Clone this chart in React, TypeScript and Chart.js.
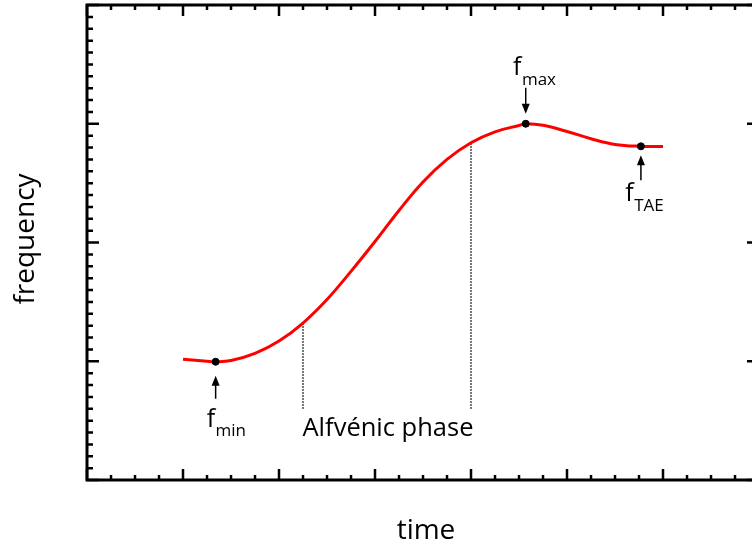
import React, { useEffect, useRef } from "react";
import { Chart, registerables } from "chart.js";

Chart.register(...registerables);

// Frequency evolution curve (time in arbitrary units, frequency in arbitrary units)
const timeValues = [1.0, 1.25, 1.34, 1.5, 1.75, 2.0, 2.25, 2.5, 2.75, 3.0, 3.25, 3.5, 3.75, 4.0, 4.25, 4.5, 4.57, 4.75, 5.0, 5.25, 5.5, 5.77, 6.0];
const freqValues = [1.017, 1.0, 0.996, 1.006, 1.066, 1.17, 1.322, 1.52, 1.757, 2.008, 2.27, 2.51, 2.7, 2.84, 2.932, 2.985, 3.0, 2.987, 2.935, 2.874, 2.826, 2.81, 2.809];

// Marked characteristic frequencies
const markerTimes = [1.34, 4.57, 5.77];
const markerFreqs = [0.996, 3.0, 2.81];
const markerSubs = ["min", "max", "TAE"];

// Alfvénic phase boundaries
const phaseTimes = [2.25, 4.0];
const phaseBottom = 0.6;
const phaseLabel = "Alfvénic phase";

const xTitle = "time";
const yTitle = "frequency";

const X_MIN = 0, X_MAX = 7, Y_MIN = 0, Y_MAX = 4;

const FONT = '"Open Sans", "DejaVu Sans", sans-serif';

function curveAt(t: number): number {
  const i = timeValues.indexOf(t);
  return i >= 0 ? freqValues[i] : NaN;
}

const framePlugin = {
  id: "frameAndNotes",
  afterDraw(chart: any) {
    const { ctx, chartArea } = chart;
    const xs = chart.scales.x;
    const ys = chart.scales.y;
    const { left, right, top, bottom } = chartArea;
    ctx.save();
    ctx.strokeStyle = "#000";
    ctx.fillStyle = "#000";
    ctx.lineCap = "butt";

    // inward ticks on all four sides
    const majorLen = 11, minorLen = 5;
    ctx.lineWidth = 2.5;
    ctx.beginPath();
    for (let k = 0; k <= (X_MAX - X_MIN) * 4; k++) {
      const v = X_MIN + k * 0.25;
      const px = xs.getPixelForValue(v);
      const len = k % 4 === 0 ? majorLen : minorLen;
      ctx.moveTo(px, bottom); ctx.lineTo(px, bottom - len);
      ctx.moveTo(px, top); ctx.lineTo(px, top + len);
    }
    for (let k = 0; k <= (Y_MAX - Y_MIN) * 10; k++) {
      const v = Y_MIN + k * 0.1;
      const py = ys.getPixelForValue(v);
      const len = k % 10 === 0 ? majorLen + 1 : minorLen + 1;
      ctx.moveTo(left, py); ctx.lineTo(left + len, py);
      ctx.moveTo(right, py); ctx.lineTo(right - len, py);
    }
    ctx.stroke();

    // frame
    ctx.lineWidth = 3;
    ctx.strokeRect(left, top, right - left, bottom - top);

    // axis titles
    ctx.font = `28px ${FONT}`;
    ctx.textAlign = "center";
    ctx.textBaseline = "alphabetic";
    ctx.fillText(xTitle, 426, 539);
    ctx.save();
    ctx.translate(34, 239);
    ctx.rotate(-Math.PI / 2);
    ctx.fillText(yTitle, 0, 0);
    ctx.restore();

    // phase label
    ctx.textAlign = "left";
    ctx.font = `25.5px ${FONT}`;
    ctx.fillText(phaseLabel, xs.getPixelForValue(phaseTimes[0]) - 0.5, ys.getPixelForValue(phaseBottom) + 27.5);

    // marker labels with arrows
    const drawArrow = (x: number, tail: number, tip: number) => {
      const dir = tip < tail ? -1 : 1;
      ctx.lineWidth = 1.5;
      ctx.beginPath();
      ctx.moveTo(x, tail);
      ctx.lineTo(x, tip - dir * 8);
      ctx.stroke();
      ctx.beginPath();
      ctx.moveTo(x, tip);
      ctx.lineTo(x - 4, tip - dir * 10);
      ctx.lineTo(x + 4, tip - dir * 10);
      ctx.closePath();
      ctx.fill();
    };
    const drawLabel = (x: number, base: number, sub: string) => {
      ctx.textAlign = "left";
      ctx.font = `25px ${FONT}`;
      ctx.fillText("f", x, base);
      const w = ctx.measureText("f").width;
      ctx.font = `17px ${FONT}`;
      ctx.fillText(sub, x + w + 0.5, base + 9.5);
    };
    markerTimes.forEach((t, i) => {
      const px = xs.getPixelForValue(t);
      const py = ys.getPixelForValue(markerFreqs[i]);
      if (markerSubs[i] === "max") {
        drawArrow(px, py - 36, py - 10);
        drawLabel(px - 12.7, py - 48.5, markerSubs[i]);
      } else if (markerSubs[i] === "min") {
        drawArrow(px, py + 37, py + 14);
        drawLabel(px - 9, py + 65, markerSubs[i]);
      } else {
        drawArrow(px, py + 34, py + 9);
        drawLabel(px - 15.7, py + 55, markerSubs[i]);
      }
    });
    ctx.restore();
  },
};

export default function App() {
  const canvasRef = useRef<HTMLCanvasElement | null>(null);

  useEffect(() => {
    const canvas = canvasRef.current;
    if (!canvas) return;

    const curve = timeValues.map((t, i) => ({ x: t, y: freqValues[i] }));
    const markers = markerTimes.map((t, i) => ({ x: t, y: markerFreqs[i] }));
    const phaseSets = phaseTimes.map((t) => ({
      type: "line" as const,
      data: [
        { x: t, y: phaseBottom },
        { x: t, y: curveAt(t) },
      ],
      borderColor: "#000",
      borderWidth: 1.4,
      borderDash: [1.5, 1.5],
      pointRadius: 0,
      tension: 0,
      order: 3,
    }));

    const chart = new Chart(canvas, {
      type: "line",
      data: {
        datasets: [
          ...phaseSets,
          {
            type: "line",
            data: curve,
            borderColor: "#ff0000",
            borderWidth: 3,
            pointRadius: 0,
            tension: 0.4,
            order: 2,
          },
          {
            type: "scatter",
            data: markers,
            backgroundColor: "#000",
            borderColor: "#000",
            pointRadius: 3.5,
            borderWidth: 1,
            order: 1,
          },
        ],
      },
      options: {
        responsive: false,
        devicePixelRatio: 1,
        animation: false,
        layout: { padding: { left: 87, top: 2, right: 41, bottom: 70 } },
        scales: {
          x: { type: "linear", min: X_MIN, max: X_MAX, display: false },
          y: { type: "linear", min: Y_MIN, max: Y_MAX, display: false },
        },
        plugins: {
          legend: { display: false },
          tooltip: { enabled: false },
        },
      },
      plugins: [framePlugin],
    } as any);

    if ((document as any).fonts && (document as any).fonts.load) {
      (document as any).fonts
        .load(`25px "Open Sans"`)
        .then(() => chart.draw())
        .catch(() => {});
    }

    return () => chart.destroy();
  }, []);

  return (
    <div
      style={{
        position: "fixed",
        left: 0,
        top: 0,
        width: 752,
        height: 550,
        overflow: "hidden",
        background: "#fff",
      }}
    >
      <canvas ref={canvasRef} width={800} height={550} style={{ display: "block" }} />
    </div>
  );
}
